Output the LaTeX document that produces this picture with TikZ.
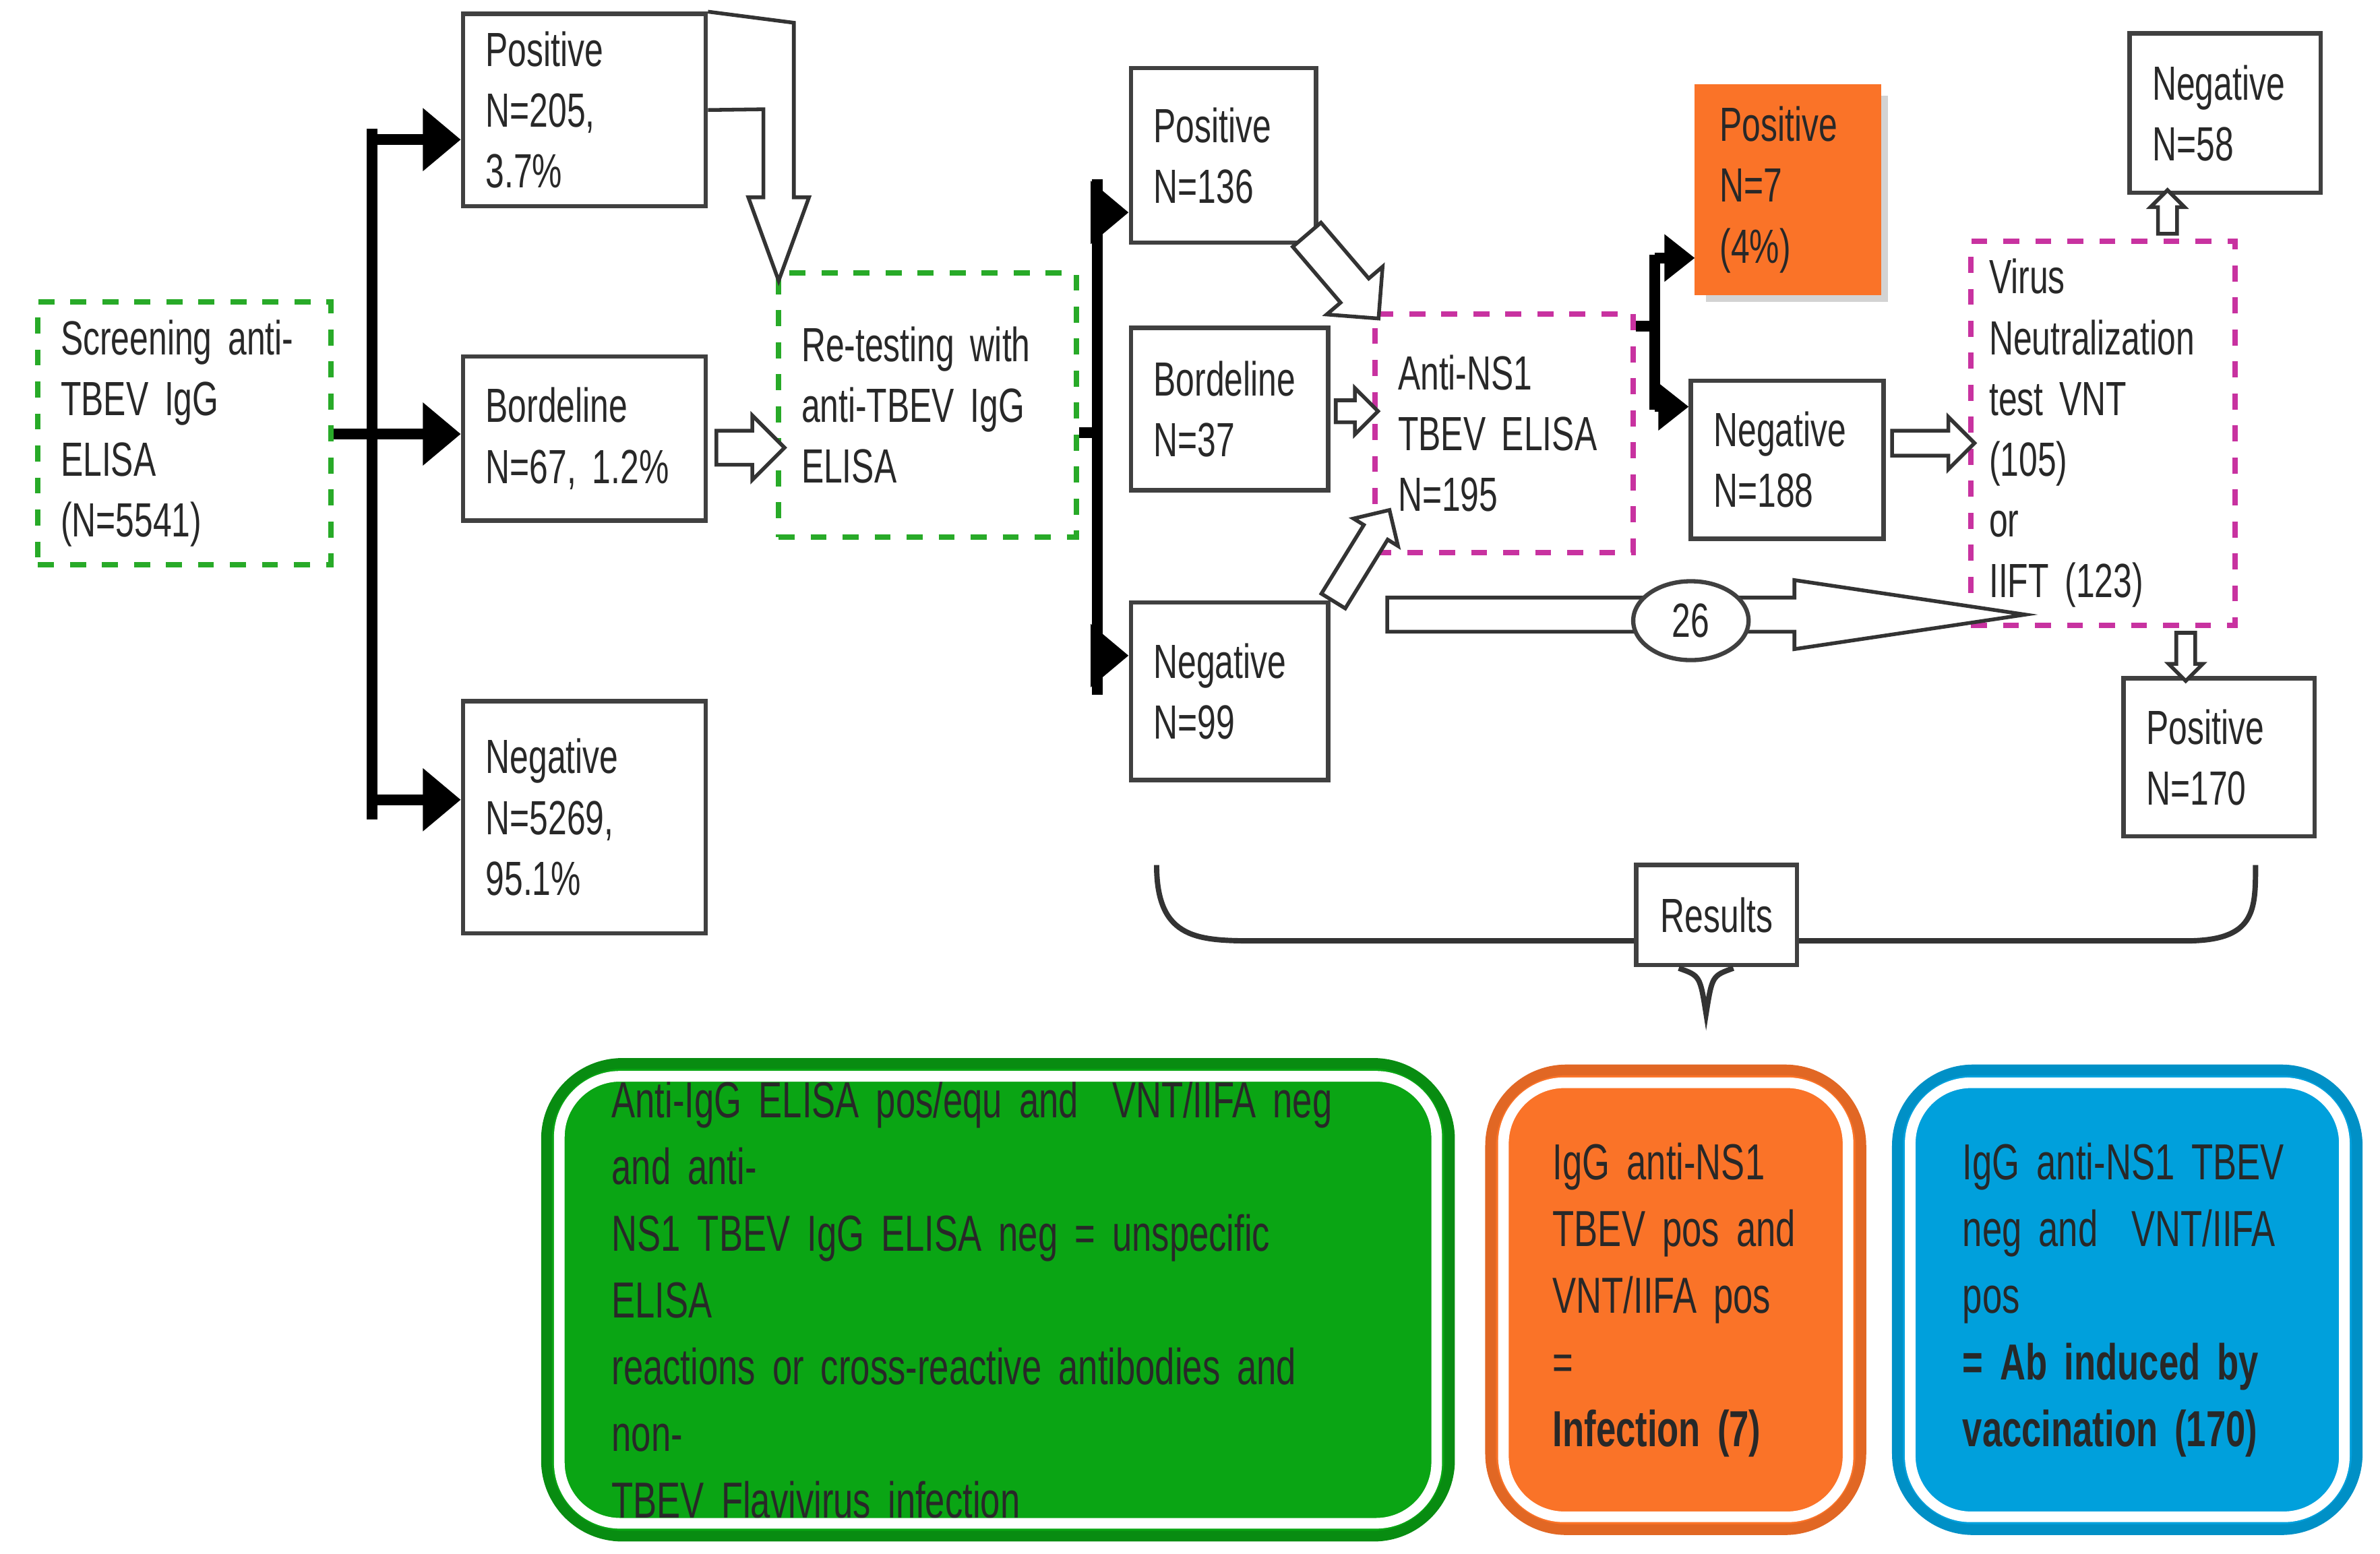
\documentclass[tikz,border=0pt]{standalone}
\usepackage{fontspec}
\setmainfont{Liberation Sans}[FakeStretch=0.7]
\usepackage{tikz}
\usetikzlibrary{arrows.meta,calc,shapes.arrows,shapes.geometric,shadows}

\definecolor{dgreen}{RGB}{40,170,40}
\definecolor{dmag}{RGB}{200,50,160}
\definecolor{orng}{RGB}{250,115,40}
\definecolor{gbox}{RGB}{10,165,20}
\definecolor{bbox}{RGB}{0,160,220}
\definecolor{txt}{RGB}{40,40,40}

\newcommand\hollow[3][]{%
  \path let \p1=($(#3)-(#2)$), \n1={veclen(\x1,\y1)}, \n2={atan2(\y1,\x1)} in
    node[harrow, minimum height=\n1, rotate=\n2, #1] at ($(#2)!0.5!(#3)$) {};}

\begin{document}
\begin{tikzpicture}[x=0.1mm, y=-0.1mm,
    box/.style={draw=black!75, line width=0.8pt, fill=white, align=left,
      inner xsep=0.15cm, text=txt, font=\fontsize{9}{11.4}\selectfont},
    dbox/.style={box, dashed, line width=1pt},
    blk/.style={line width=2pt, -{Triangle[length=0.25cm, width=0.4cm]}},
    bar/.style={line width=2pt},
    harrow/.style={single arrow, draw=black!80, fill=white, line width=0.7pt,
      inner sep=0.1cm, single arrow head extend=0.1cm, outer sep=0pt},
    big/.style={rounded corners=0.5cm, line width=2pt, align=left, text=txt,
      font=\fontsize{9.5}{12.5}\selectfont, minimum height=3.03cm}]
  \useasboundingbox (0,0) rectangle (1568,1024);

  % first stage
  \node[dbox, draw=dgreen, minimum width=1.93cm, minimum height=1.57cm, text width=1.63cm]
    (scr) at (121.5,285.5) {Screening anti-\\TBEV IgG ELISA\\(N=5541)};
  \node[box, minimum width=1.6cm, minimum height=1.15cm, text width=1.3cm]
    (p1) at (385,72.5) {Positive\\N=205, 3.7\%};
  \node[box, minimum width=1.6cm, minimum height=1.08cm, text width=1.3cm]
    (b1) at (385,289) {Bordeline\\N=67, 1.2\%};
  \node[box, minimum width=1.6cm, minimum height=1.53cm, text width=1.3cm]
    (n1) at (385,538.5) {Negative\\N=5269,\\95.1\%};
  \node[dbox, draw=dgreen, minimum width=1.96cm, minimum height=1.74cm, text width=1.66cm]
    (re) at (611,267) {Re-testing with\\anti-TBEV IgG\\ELISA};

  % second stage
  \node[box, minimum width=1.22cm, minimum height=1.15cm, text width=0.92cm]
    (p2) at (806,102.5) {Positive\\N=136};
  \node[box, minimum width=1.30cm, minimum height=1.07cm, text width=1.0cm]
    (b2) at (810,269.5) {Bordeline\\N=37};
  \node[box, minimum width=1.30cm, minimum height=1.17cm, text width=1.0cm]
    (n2) at (810,455.5) {Negative\\N=99};
  \node[dbox, draw=dmag, minimum width=1.70cm, minimum height=1.57cm, text width=1.4cm]
    (ns1) at (991,285.5) {Anti-NS1\\TBEV ELISA\\N=195};
  \node[box, draw=orng, fill=orng, minimum width=1.20cm, minimum height=1.36cm, text width=0.9cm,
    drop shadow={shadow xshift=0.06cm, shadow yshift=-0.06cm, opacity=0.35}]
    (po) at (1178,125) {Positive\\N=7\\(4\%)};
  \node[box, minimum width=1.27cm, minimum height=1.04cm, text width=0.97cm]
    (n3) at (1177.5,303) {Negative\\N=188};
  \node[dbox, draw=dmag, minimum width=1.73cm, minimum height=2.51cm, text width=1.5cm, inner xsep=0.12cm]
    (vi) at (1385.5,285.5) {Virus\\Neutralization\\test VNT (105)\\or\\IIFT (123)};
  \node[box, minimum width=1.26cm, minimum height=1.05cm, text width=0.96cm]
    (n4) at (1466,74.5) {Negative\\N=58};
  \node[box, minimum width=1.26cm, minimum height=1.04cm, text width=0.96cm]
    (p4) at (1462,499) {Positive\\N=170};

  % black connectors
  \draw[bar] (scr.east |- 0,286) -- (245,286);
  \draw[bar] (245,85) -- (245,540);
  \coordinate (j1) at (245,92);
  \coordinate (j2) at (245,286);
  \coordinate (j3) at (245,527);
  \foreach \j/\b in {j1/p1, j2/b1, j3/n1}
    \draw[blk] (\j) -- (\j -| \b.west);
  \draw[bar] (re.east |- 0,285) -- (723,285);
  \draw[bar] (723,118) -- (723,458);
  \coordinate (k1) at (723,140);
  \coordinate (k2) at (723,432);
  \draw[blk] (k1) -- (k1 -| p2.west);
  \draw[blk] (k2) -- (k2 -| n2.west);
  \draw[bar] (ns1.east |- 0,215) -- (1090,215);
  \draw[bar] (1090,168) -- (1090,270);
  \coordinate (m1) at (1090,170);
  \coordinate (m2) at (1090,268);
  \draw[line width=2pt, -{Triangle[length=0.2cm, width=0.3cm]}] (m1) -- (m1 -| po.west);
  \draw[line width=2pt, -{Triangle[length=0.2cm, width=0.3cm]}] (m2) -- (m2 -| n3.west);

  % hollow connectors
  \draw[draw=black!80, fill=white, line width=0.7pt] (p1.north east) -- (523,15) -- (523,130)
    -- (533,130) -- (513,185) -- (493,130) -- (503,130) -- (503,72) -- (p1.east);
  \hollow{b1.east |- 0,295}{re.west |- 0,295}
  \hollow[inner sep=0.11cm, single arrow head extend=0.12cm]{857,150}{ns1.north west}
  \hollow[inner sep=0.06cm, single arrow head extend=0.08cm]{b2.east |- 0,271}{ns1.west |- 0,271}
  \hollow[inner sep=0.08cm, single arrow head extend=0.08cm]{876,400}{913,340}
  \hollow[inner sep=0.1cm, single arrow head extend=0.115cm, single arrow tip angle=17]{n2.east |- 0,405}{vi.west |- 0,405}
  \hollow[inner sep=0.07cm, single arrow head extend=0.09cm]{n3.east |- 0,292}{vi.west |- 0,292}
  \hollow[inner sep=0.05cm, single arrow head extend=0.05cm]{vi.north -| 1428,0}{n4.south -| 1428,0}
  \hollow[inner sep=0.05cm, single arrow head extend=0.05cm]{vi.south -| 1440,0}{p4.north -| 1440,0}
  \node[ellipse, draw=black!75, line width=0.8pt, fill=white, minimum width=0.76cm,
    minimum height=0.52cm, inner sep=0pt, text=txt, font=\fontsize{9}{11}\selectfont]
    (c26) at (1114,409) {26};

  % results brace
  \draw[line width=1pt, black!80] (762,570) .. controls (762,620) and (790,620) .. (830,620)
    -- (1440,620) .. controls (1486,620) and (1486,600) .. (1486,570);
  \node[box, minimum width=1.06cm, minimum height=0.66cm, align=center] (res) at (1131,603) {Results};
  \draw[line width=1pt, black!80] (1106,638) .. controls (1120,643) .. (1124,668)
    .. controls (1128,643) .. (1142,638);

  % bottom boxes
  \node[big, fill=gbox, draw=gbox!85!black, minimum width=5.95cm, text width=5.09cm]
    (gr) at (657.5,856.5) {Anti-IgG ELISA pos/equ and\ \ VNT/IIFA neg and anti-\\NS1 TBEV IgG ELISA neg = unspecific ELISA\\reactions or cross-reactive antibodies and non-\\TBEV Flavivirus infection};
  \node[big, fill=orng, draw=orng!90!black, minimum width=2.44cm, text width=1.62cm]
    (or) at (1104,856.5) {IgG anti-NS1\\TBEV pos and\\VNT/IIFA pos =\\\textbf{Infection (7)}};
  \node[big, fill=bbox, draw=bbox!90!black, minimum width=3.03cm, text width=2.17cm]
    (bl) at (1401.5,856.5) {IgG anti-NS1 TBEV\\neg and\ \ VNT/IIFA pos\\\textbf{= Ab induced by}\\\textbf{vaccination (170)}};
  \foreach \b in {gr, or, bl}
    \draw[white, line width=2pt, rounded corners=0.4cm]
      ([shift={(12,12)}]\b.north west) rectangle ([shift={(-12,-12)}]\b.south east);
\end{tikzpicture}
\end{document}
